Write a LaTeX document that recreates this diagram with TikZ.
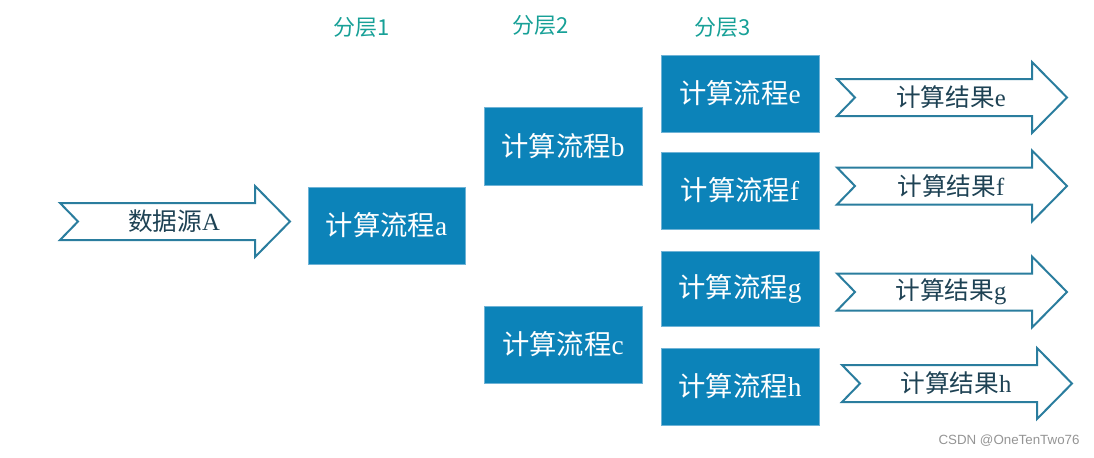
\documentclass[tikz,border=0pt]{standalone}
\usepackage{fontspec}
\setmainfont{Liberation Serif}
\newfontfamily\cjk{Noto Sans CJK SC}
\newfontfamily\wmfont{Liberation Sans}
\definecolor{boxblue}{HTML}{0C83B9}
\definecolor{boxedge}{HTML}{6FB3D6}
\definecolor{arrowline}{HTML}{2A7D9E}
\definecolor{arrowtext}{HTML}{1E4254}
\definecolor{layerteal}{HTML}{17A097}
\tikzset{
  flowbox/.style={fill=boxblue, draw=boxedge, line width=0.6pt, minimum width=158*0.75pt, minimum height=77*0.75pt, inner sep=0pt, text=white, font=\fontsize{20.5}{22}\selectfont},
  arrowshape/.style={draw=arrowline, line width=1.5pt, fill=white, line join=miter},
  arrowlabel/.style={text=arrowtext, font=\fontsize{18.5}{20}\selectfont, inner sep=0pt},
  layerlabel/.style={text=layerteal, font=\cjk\fontsize{16.5}{18}\selectfont, inner sep=0pt},
}
\newcommand\resarrow[4]{%
  \draw[arrowshape] (#2,#3-18.5) -- ({#2+195},#3-18.5) -- ({#2+195},#3-35.5) -- ({#2+230},#3)
    -- ({#2+195},#3+35.5) -- ({#2+195},#3+18.5) -- (#2,#3+18.5) -- ({#2+18},#3) -- cycle;
  \node[arrowlabel] (#1) at ({#2+114},#3) {#4};
}
\begin{document}
\begin{tikzpicture}[x=0.75pt, y=-0.75pt]
\useasboundingbox (0,0) rectangle (1094,457);
% layer labels
\node[layerlabel] (l1) at (362,27) {分层1};
\node[layerlabel] (l2) at (541,25) {分层2};
\node[layerlabel] (l3) at (723,27) {分层3};
% input arrow
\resarrow{srcA}{60}{221.5}{{\cjk 数据源}A}
% boxes
\node[flowbox, minimum width=157*0.75pt] (a) at (386.5,225.5) {{\cjk 计算流程}a};
\node[flowbox, minimum height=78*0.75pt] (b) at (563,146) {{\cjk 计算流程}b};
\node[flowbox] (c) at (563,344.5) {{\cjk 计算流程}c};
\node[flowbox] (e) at (740,93.5) {{\cjk 计算流程}e};
\node[flowbox] (f) at (740,190.5) {{\cjk 计算流程}f};
\node[flowbox, minimum height=75*0.75pt] (g) at (740,288.5) {{\cjk 计算流程}g};
\node[flowbox] (h) at (740,386.5) {{\cjk 计算流程}h};
% result arrows
\resarrow{re}{837}{97.5}{{\cjk 计算结果}e}
\resarrow{rf}{837}{186}{{\cjk 计算结果}f}
\resarrow{rg}{837}{292}{{\cjk 计算结果}g}
\resarrow{rh}{842}{383.5}{{\cjk 计算结果}h}
% watermark
\node[text=black!42, font=\wmfont\fontsize{10}{12}\selectfont, inner sep=0pt] (wm) at (1009,441) {CSDN @OneTenTwo76};
\end{tikzpicture}
\end{document}
